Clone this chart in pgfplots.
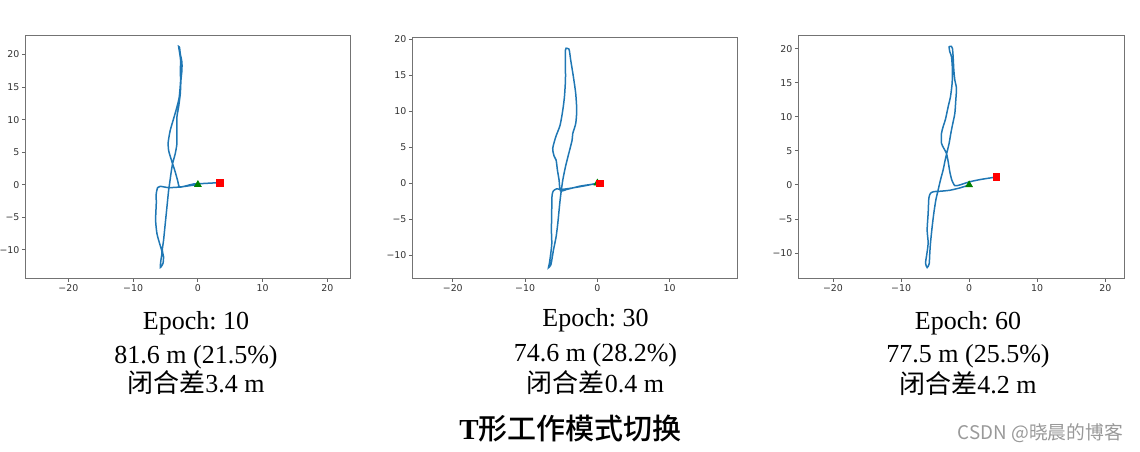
\documentclass[border=0pt]{standalone}
\usepackage{fontspec}
\setmainfont{Liberation Serif}
\newfontfamily\cjk{Noto Sans CJK SC}
\newfontfamily\cjkm{Noto Sans CJK SC}[UprightFont={* Medium}]
\newfontfamily\dejavu{DejaVu Sans}
\usepackage{pgfplots}
\pgfplotsset{compat=1.18}
\frenchspacing
\definecolor{mplblue}{HTML}{1F77B4}
\definecolor{mplgreen}{rgb}{0,0.5,0}
\pgfplotsset{traj/.style={
  scale only axis, anchor=south west,
  tick align=outside, xtick pos=bottom, ytick pos=left,
  ytick={-10,-5,0,5,10,15,20}, yticklabels={−10,−5,0,5,10,15,20},
  tick label style={font=\dejavu\fontsize{4.7}{5}\selectfont, text=black!80, inner sep=1pt},
  major tick length=1.75pt,
  every tick/.style={black!60, line width=0.45pt},
  axis line style={black!55, line width=0.55pt},
},
path/.style={mplblue, line width=0.75pt, smooth, tension=0.4},
start/.style={only marks, mark=triangle*, mark size=1.9pt, mplgreen},
stop/.style={only marks, mark=square*, mark size=1.7pt, red}}

\begin{document}
\begin{tikzpicture}

% Epoch 10
\begin{axis}[traj, at={(12.65pt,86.35pt)}, width=162.4pt, height=121.3pt,
  xmin=-26.65, xmax=23.5, ymin=-14.4, ymax=22.9,
  xtick={-20,-10,0,10,20}, xticklabels={−20,−10,0,10,20}]
\addplot[path] coordinates {
(0,0) (-1.18,-0.15) (-2.72,-0.36) (-4.52,-0.46) (-5.81,-0.26) (-6.22,-0.46)
(-6.43,-1.38) (-6.43,-2.92) (-6.53,-5.48) (-6.32,-7.53) (-5.91,-9.06)
(-5.55,-10.34) (-5.71,-11.62) (-5.81,-12.75) (-5.40,-12.14) (-5.30,-11.11)
(-5.50,-10.09) (-5.30,-8.55) (-5.04,-5.99) (-4.78,-3.43) (-4.52,-0.87)
(-4.37,0.15) (-4.16,1.69) (-3.91,3.23) (-3.50,4.76) (-3.24,6.30) (-3.24,8.35)
(-3.24,10.39) (-2.98,11.93) (-2.72,13.98) (-2.62,16.03) (-2.47,17.56)
(-2.47,18.84) (-2.72,20.12) (-2.83,21.04) (-2.98,21.25) (-2.88,20.64)
(-2.67,19.10) (-2.72,17.31) (-2.67,16.03) (-2.88,13.47) (-3.24,11.93)
(-3.75,10.14) (-4.27,8.35) (-4.58,6.55) (-4.52,5.27) (-4.16,3.99) (-3.91,3.23)
(-3.50,1.95) (-3.14,0.67) (-2.83,-0.36) (-1.70,-0.15) (-0.67,0.10) (0.36,0.15)
(3.34,0.31)};
\addplot[start] coordinates {(0,0)};
\addplot[stop] coordinates {(3.34,0.31)};
\end{axis}

% Epoch 30
\begin{axis}[traj, at={(206.15pt,86.35pt)}, width=162.7pt, height=120.5pt,
  xmin=-25.6, xmax=19.4, ymin=-13.25, ymax=20.3,
  xtick={-20,-10,0,10}, xticklabels={−20,−10,0,10}]
\addplot[path] coordinates {
(0,0) (-1.47,-0.32) (-3.32,-0.65) (-4.93,-0.88) (-5.62,-0.79) (-6.08,-1.07)
(-6.27,-1.67) (-6.31,-3.29) (-6.36,-6.54) (-6.31,-8.39) (-6.45,-9.78)
(-6.64,-11.17) (-6.77,-11.78) (-6.45,-11.40) (-6.27,-10.48) (-6.08,-9.32)
(-5.71,-7.46) (-5.48,-5.61) (-5.30,-3.76) (-5.16,-2.36) (-5.02,-1.21)
(-4.79,0.42) (-4.42,2.27) (-3.96,4.13) (-3.50,5.98) (-3.41,6.91) (-3.00,8.30)
(-2.86,10.15) (-3.00,12.47) (-3.32,14.79) (-3.69,17.11) (-3.87,18.41)
(-3.96,18.68) (-4.33,18.78) (-4.42,18.50) (-4.42,16.64) (-4.42,14.33)
(-4.56,12.01) (-4.79,10.15) (-5.16,8.07) (-5.76,6.44) (-6.18,4.82)
(-5.99,3.76) (-5.71,3.20) (-5.53,1.81) (-5.30,0.42) (-5.12,-1.07)
(-4.24,-0.88) (-2.40,-0.42) (-0.55,-0.14) (0.37,-0.05)};
\addplot[start] coordinates {(0,0)};
\addplot[stop] coordinates {(0.37,-0.05)};
\end{axis}

% Epoch 60
\begin{axis}[traj, at={(399.15pt,86.35pt)}, width=163pt, height=121.3pt,
  xmin=-25.1, xmax=22.8, ymin=-13.7, ymax=21.9,
  xtick={-20,-10,0,10,20}, xticklabels={−20,−10,0,10,20}]
\addplot[path] coordinates {
(0,0) (-1.37,-0.44) (-2.84,-0.78) (-4.31,-0.93) (-5.19,-0.98) (-5.68,-1.22)
(-5.92,-1.95) (-6.02,-4.15) (-6.17,-6.60) (-6.02,-8.55) (-6.27,-10.50)
(-6.41,-11.48) (-6.17,-12.12) (-5.87,-11.58) (-5.78,-10.01) (-5.68,-8.55)
(-5.43,-6.11) (-5.19,-4.15) (-4.89,-2.20) (-4.55,-0.73) (-4.21,0.73)
(-3.82,2.20) (-3.52,3.66) (-3.23,4.89) (-2.94,6.11) (-2.69,7.57) (-2.45,8.79)
(-2.10,10.50) (-1.96,12.46) (-1.86,14.17) (-2.10,15.39) (-2.25,16.85)
(-2.35,18.81) (-2.45,20.03) (-2.59,20.32) (-2.94,20.27) (-2.84,19.54)
(-2.59,18.81) (-2.45,16.85) (-2.50,14.90) (-2.74,12.95) (-3.08,11.48)
(-3.48,9.62) (-3.82,8.55) (-4.06,7.57) (-4.06,6.11) (-3.72,5.37) (-3.33,4.64)
(-3.08,3.42) (-2.84,1.95) (-2.55,0.73) (-2.10,-0.10) (-1.37,0) (0,0.44)
(1.57,0.78) (4.01,1.17)};
\addplot[start] coordinates {(0,0)};
\addplot[stop] coordinates {(4.01,1.17)};
\end{axis}

\begin{scope}[every node/.style={anchor=base, inner sep=0pt, font=\fontsize{13}{15}\selectfont}]
\node at (98pt,61pt) {Epoch: 10};
\node at (98pt,44pt) {81.6 m (21.5\%)};
\node at (98pt,29.5pt) {{\cjk 闭合差}3.4 m};
\node at (297.75pt,62.5pt) {Epoch: 30};
\node at (297.75pt,45pt) {74.6 m (28.2\%)};
\node at (297.75pt,29.5pt) {{\cjk 闭合差}0.4 m};
\node at (484pt,61pt) {Epoch: 60};
\node at (484pt,44.5pt) {77.5 m (25.5\%)};
\node at (484pt,29pt) {{\cjk 闭合差}4.2 m};
\end{scope}
\node[anchor=base, inner sep=0pt, font=\fontsize{14.5}{17}\selectfont] at (285.25pt,6pt) {{\bfseries T}{\cjkm 形工作模式切换}};
\node[anchor=base, inner sep=0pt, text=black!40, font=\cjk\fontsize{9.4}{11}\selectfont] at (520.25pt,6pt) {CSDN @晓晨的博客};

\pgfresetboundingbox
\useasboundingbox (0,0) rectangle (570pt,225.5pt);
\end{tikzpicture}
\end{document}
